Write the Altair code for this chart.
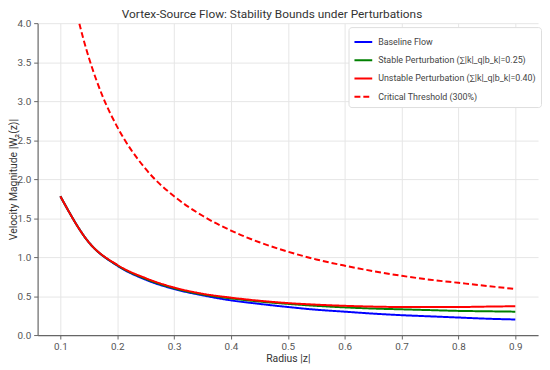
import altair as alt
import pandas as pd

radius = [0.10, 0.15, 0.20, 0.25, 0.30, 0.35, 0.40, 0.45, 0.50, 0.55, 0.60,
          0.65, 0.70, 0.75, 0.80, 0.85, 0.90]
baseline = [1.78, 1.19, 0.89, 0.71, 0.59, 0.51, 0.445, 0.40, 0.36, 0.325, 0.30,
            0.275, 0.255, 0.24, 0.225, 0.21, 0.20]
stable = [1.78, 1.19, 0.895, 0.72, 0.60, 0.52, 0.47, 0.43, 0.40, 0.375, 0.355,
          0.34, 0.33, 0.32, 0.31, 0.305, 0.30]
unstable = [1.78, 1.19, 0.90, 0.73, 0.61, 0.53, 0.48, 0.44, 0.41, 0.39, 0.375,
            0.365, 0.36, 0.36, 0.36, 0.365, 0.37]
crit_radius = [0.10, 0.11, 0.12, 0.13, 0.14, 0.15, 0.175, 0.20, 0.25, 0.30, 0.35,
               0.40, 0.45, 0.50, 0.55, 0.60, 0.65, 0.70, 0.75, 0.80, 0.85, 0.90]
critical = [5.34, 4.85, 4.45, 4.10, 3.81, 3.56, 3.05, 2.67, 2.13, 1.78, 1.53,
            1.34, 1.19, 1.07, 0.97, 0.89, 0.82, 0.76, 0.71, 0.67, 0.63, 0.59]

names = ["Baseline Flow",
         "Stable Perturbation (∑|k|_q|b_k|=0.25)",
         "Unstable Perturbation (∑|k|_q|b_k|=0.40)",
         "Critical Threshold (300%)"]
colors = ["#0000ff", "#008000", "#ff0000", "#ff0000"]
dashes = [[1, 0], [1, 0], [1, 0], [6, 3]]

rows = []
for i, r in enumerate(radius):
    rows.append({"r": r, "v": baseline[i], "s": names[0], "o": 0})
    rows.append({"r": r, "v": stable[i], "s": names[1], "o": 1})
    rows.append({"r": r, "v": unstable[i], "s": names[2], "o": 2})
for i, r in enumerate(crit_radius):
    rows.append({"r": r, "v": critical[i], "s": names[3], "o": 3})
df = pd.DataFrame(rows)

FONT = "Roboto"

chart = alt.Chart(df).mark_line(strokeWidth=2, interpolate="monotone", clip=True).encode(
    x=alt.X("r:Q", title="Radius |z|",
            scale=alt.Scale(domain=[0.06, 0.94], nice=False, zero=False),
            axis=alt.Axis(values=[0.1, 0.2, 0.3, 0.4, 0.5, 0.6, 0.7, 0.8, 0.9], format=".1f",
                          titlePadding=2)),
    y=alt.Y("v:Q", title="Velocity Magnitude |W₂(z)|",
            scale=alt.Scale(domain=[0, 4], nice=False),
            axis=alt.Axis(values=[0, 0.5, 1, 1.5, 2, 2.5, 3, 3.5, 4], format=".1f",
                          titleX=-19)),
    color=alt.Color("s:N", scale=alt.Scale(domain=names, range=colors),
                    legend=alt.Legend(title=None, orient="none", legendX=315, legendY=4,
                                      symbolType="stroke", symbolStrokeWidth=2,
                                      symbolSize=324, labelFontSize=9,
                                      labelColor="#444444", rowPadding=3.5,
                                      padding=5, strokeColor="#dddddd",
                                      fillColor="white", cornerRadius=3,
                                      labelOffset=5, labelLimit=300)),
    strokeDash=alt.StrokeDash("s:N", scale=alt.Scale(domain=names, range=dashes), legend=None),
    order="o:Q",
    detail="s:N",
).properties(
    width=507, height=316,
    title=alt.TitleParams("Vortex-Source Flow: Stability Bounds under Perturbations",
                          fontSize=12, fontWeight="normal", color="#333333",
                          font=FONT, offset=-3, dx=-16),
    autosize=alt.AutoSizeParams(type="none"),
    padding={"left": 30, "top": 13, "right": 4, "bottom": 30},
).configure_view(stroke=None).configure_axis(
    labelFont=FONT, titleFont=FONT,
    labelFontSize=10, titleFontSize=10.5, labelColor="#555555", titleColor="#333333",
    titleFontWeight="normal", gridColor="#e6e6e6", domainColor="#666666",
    tickColor="#666666", tickSize=4, domainWidth=1.2, labelPadding=3,
).configure_legend(labelFont=FONT)

chart.save("out.html", embed_options={"renderer": "svg", "actions": False})
